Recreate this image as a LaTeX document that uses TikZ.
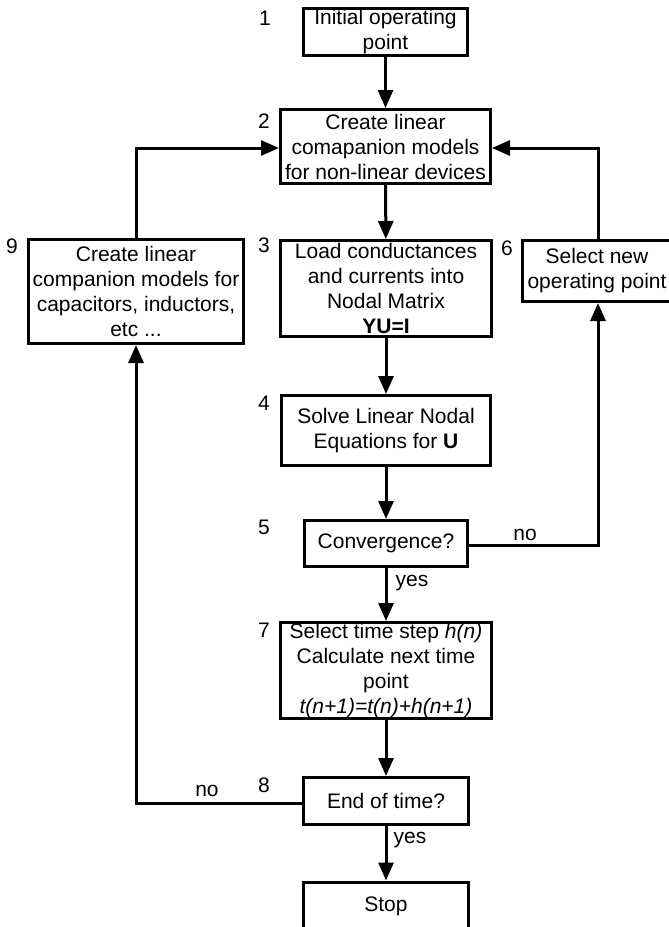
\documentclass[tikz,border=0pt]{standalone}
\usepackage{fontspec}
\setmainfont{Liberation Sans}
\usetikzlibrary{arrows.meta}
\begin{document}
\begin{tikzpicture}[x=1pt,y=-1pt,
  every node/.style={font=\fontsize{21}{25}\selectfont},
  box/.style={draw, line width=3pt, inner sep=0pt, align=center},
  num/.style={inner sep=0pt, anchor=center},
  flow/.style={line width=3pt, -{Triangle[length=18pt,width=15pt]}},
  plain/.style={line width=3pt}]
\path[use as bounding box, clip] (0,0) rectangle (669,927);
\fill[white] (0,0) rectangle (669,927);

% process boxes
\node[box, minimum width=164, minimum height=47] (b1) at (385.5,32) {Initial operating\\point};
\node[box, minimum width=210, minimum height=74] (b2) at (385.5,146.5) {Create linear\\comapanion models\\for non-linear devices};
\node[box, minimum width=211, minimum height=96] (b3) at (386,288.5) {Load conductances\\and currents into\\Nodal Matrix\\\textbf{YU=I}};
\node[box, minimum width=215, minimum height=104] (b9) at (136,291.5) {Create linear\\companion models for\\capacitors, inductors,\\etc ...};
\node[box, minimum width=150, minimum height=61] (b6) at (597,271) {Select new\\operating point};
\node[box, minimum width=209, minimum height=70] (b4) at (386,430.5) {Solve Linear Nodal\\Equations for \textbf{U}};
\node[box, minimum width=163, minimum height=46] (b5) at (386,543.5) {Convergence?};
\node[box, minimum width=211, minimum height=96] (b7) at (386,670.5) {Select time step \textit{h(n)}\\Calculate next time\\point\\\textit{t(n+1)=t(n)+h(n+1)}};
\node[box, minimum width=165, minimum height=47] (b8) at (386,801) {End of time?};
\node[box, minimum width=165, minimum height=48] (stop) at (386,906) {Stop};

% step numbers
\node[num] (n1) at (265,18) {1};
\node[num] (n2) at (264,121) {2};
\node[num] (n3) at (264,245) {3};
\node[num] (n9) at (12,246) {9};
\node[num] (n6) at (507,248) {6};
\node[num] (n4) at (264,403) {4};
\node[num] (n5) at (264,527) {5};
\node[num] (n7) at (264,630) {7};
\node[num] (n8) at (264,785) {8};

% branch labels
\node[num] (l5no) at (525,535) {no};
\node[num] (l8no) at (207,791) {no};
\node[num] (l5yes) at (412,583) {yes};
\node[num] (l8yes) at (410,840) {yes};

% main flow
\draw[flow] (b1) -- (b2);
\draw[flow] (b2) -- (b3);
\draw[flow] (b3) -- (b4);
\draw[flow] (b4) -- (b5);
\draw[flow] (b5) -- (b7);
\draw[flow] (b7) -- (b8);
\draw[flow] (b8) -- (stop);

% Newton iteration loop
\coordinate (c5) at (598,545);
\draw[flow] (b5.east |- c5) -- (c5) -- (b6.south -| c5);
\coordinate (c6) at (598,148);
\draw[flow] (b6.north -| c6) -- (c6) -- (b2.east |- c6);

% time step loop
\coordinate (c8) at (136,803);
\draw[flow] (b8.west |- c8) -- (c8) -- (b9.south);
\coordinate (c9) at (136,148);
\draw[flow] (b9.north) -- (c9) -- (b2.west |- c9);
\end{tikzpicture}
\end{document}
